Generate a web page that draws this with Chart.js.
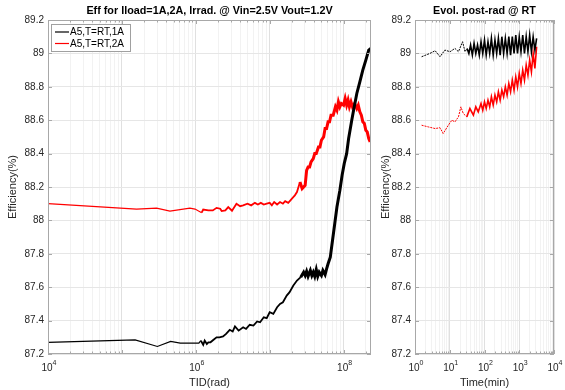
<!DOCTYPE html>
<html>
<head>
<meta charset="utf-8">
<script src="https://cdn.jsdelivr.net/npm/chart.js@4.4.1/dist/chart.umd.min.js"></script>
<style>
  html, body { margin: 0; padding: 0; background: #fff; }
  #wrap { position: relative; width: 565px; height: 390px; }
  #tid-chart { position: absolute; left: 0; top: 0; }
  #time-chart { position: absolute; left: 380px; top: 0; }
</style>
</head>
<body>
<div id="wrap">
  <canvas id="tid-chart" width="380" height="390"></canvas>
  <canvas id="time-chart" width="185" height="390"></canvas>
</div>
<script>
// ---- left panel: efficiency vs total ionizing dose ----
const tidRad1A = [
  1e4, 1.51e5, 3.02e5, 4.57e5, 6.17e5, 1.10e6, 1.17e6, 1.26e6, 1.32e6, 1.41e6,
  1.48e6, 1.58e6, 1.74e6, 1.91e6, 2.09e6, 2.34e6, 2.57e6, 2.88e6, 3.16e6, 3.39e6,
  3.80e6, 4.37e6, 4.79e6, 5.37e6, 6.03e6, 6.76e6, 7.41e6, 8.32e6, 9.12e6, 1.0e7,
  1.12e7, 1.26e7, 1.38e7, 1.51e7, 1.70e7, 1.86e7, 2.09e7, 2.34e7, 2.63e7, 2.88e7,
  3.02e7, 3.16e7, 3.31e7, 3.55e7, 3.72e7, 3.89e7, 4.07e7, 4.27e7, 4.47e7, 4.68e7,
  5.01e7, 5.25e7, 5.62e7, 5.89e7, 6.17e7, 6.61e7, 7.08e7, 7.59e7, 8.13e7, 8.91e7,
  9.55e7, 1.02e8, 1.10e8, 1.17e8, 1.29e8, 1.38e8, 1.51e8, 1.66e8, 1.82e8, 2.00e8,
  2.19e8, 2.34e8
];
const eff1A = [
  87.27, 87.285, 87.245, 87.275, 87.265, 87.265, 87.28, 87.255, 87.28, 87.26,
  87.27, 87.27, 87.285, 87.30, 87.30, 87.305, 87.32, 87.345, 87.335, 87.365,
  87.34, 87.36, 87.35, 87.375, 87.37, 87.395, 87.39, 87.42, 87.415, 87.45,
  87.44, 87.48, 87.50, 87.51, 87.55, 87.57, 87.61, 87.64, 87.66, 87.69,
  87.67, 87.695, 87.665, 87.70, 87.67, 87.69, 87.665, 87.705, 87.665, 87.69,
  87.67, 87.70, 87.675, 87.71, 87.74, 87.78, 87.88, 87.98, 88.08, 88.18,
  88.27, 88.34, 88.40, 88.49, 88.60, 88.67, 88.76, 88.83, 88.90, 88.96,
  89.02, 89.03
];

const tidRad2A = [
  1e4, 1.58e5, 2.95e5, 4.47e5, 8.32e5, 9.77e5, 1.20e6, 1.26e6, 1.48e6, 1.70e6,
  1.91e6, 2.14e6, 2.24e6, 2.51e6, 2.75e6, 3.09e6, 3.55e6, 3.98e6, 4.37e6, 5.01e6,
  5.62e6, 6.31e6, 6.92e6, 7.59e6, 8.32e6, 9.12e6, 1.0e7, 1.07e7, 1.15e7, 1.26e7,
  1.38e7, 1.51e7, 1.62e7, 1.78e7, 1.91e7, 2.00e7, 2.19e7, 2.34e7, 2.57e7, 2.75e7,
  3.02e7, 3.16e7, 3.31e7, 3.47e7, 3.63e7, 3.89e7, 4.07e7, 4.27e7, 4.57e7, 4.79e7,
  5.01e7, 5.37e7, 5.62e7, 5.89e7, 6.17e7, 6.46e7, 6.76e7, 7.24e7, 7.76e7, 8.13e7,
  8.51e7, 8.91e7, 9.33e7, 1.0e8, 1.05e8, 1.10e8, 1.15e8, 1.20e8, 1.26e8, 1.32e8,
  1.41e8, 1.51e8, 1.58e8, 1.66e8, 1.74e8, 1.82e8, 1.91e8, 2.00e8, 2.09e8, 2.19e8,
  2.29e8
];
const eff2A = [
  88.10, 88.067, 88.073, 88.056, 88.074, 88.068, 88.046, 88.065, 88.06, 88.06,
  88.075, 88.07, 88.056, 88.06, 88.08, 88.058, 88.10, 88.085, 88.09, 88.10,
  88.09, 88.105, 88.095, 88.105, 88.095, 88.10, 88.105, 88.09, 88.11, 88.095,
  88.11, 88.10, 88.115, 88.105, 88.12, 88.13, 88.15, 88.17, 88.23, 88.19,
  88.21, 88.30, 88.32, 88.32, 88.35, 88.37, 88.40, 88.40, 88.44, 88.44,
  88.48, 88.50, 88.55, 88.55, 88.59, 88.59, 88.63, 88.63, 88.68, 88.66,
  88.71, 88.68, 88.70, 88.69, 88.73, 88.69, 88.72, 88.68, 88.71, 88.68,
  88.70, 88.67, 88.69, 88.65, 88.63, 88.59, 88.58, 88.54, 88.53, 88.49,
  88.47
];

// ---- right panel: post-irradiation evolution ----
const timeMin1A = [
  1.55, 2.69, 3.80, 5.25, 7.24, 10.2, 14.1, 17.8, 23.4, 27.5,
  31.6, 35.5, 39.8, 44.7, 50.1, 56.2, 63.1, 70.8, 79.4, 89.1,
  100, 112, 126, 141, 158, 178, 200, 224, 251, 282,
  316, 355, 398, 447, 501, 562, 631, 708, 794, 891,
  1000, 1122, 1259, 1413, 1585, 1778, 1995, 2239, 2512, 2818,
  3162
];
const post1A = [
  88.98, 89.00, 89.016, 88.98, 89.02, 89.01, 89.03, 89.01, 89.07, 89.01,
  89.03, 89.00, 89.05, 88.99, 89.06, 89.00, 89.05, 88.99, 89.07, 89.00,
  89.08, 88.99, 89.07, 89.00, 89.09, 88.99, 89.08, 89.00, 89.09, 88.99,
  89.10, 89.00, 89.09, 89.00, 89.10, 88.99, 89.10, 89.00, 89.11, 89.00,
  89.10, 89.01, 89.11, 89.00, 89.10, 89.01, 89.11, 89.01, 89.10, 89.02,
  89.09
];

const timeMin2A = [
  1.55, 2.40, 3.80, 5.25, 6.46, 9.12, 11.5, 14.1, 17.8, 20.9,
  24.5, 30.9, 38.0, 47.9, 56.2, 66.1, 79.4, 89.1, 100, 112,
  126, 141, 158, 178, 200, 224, 251, 282, 316, 355,
  398, 447, 501, 562, 631, 708, 794, 891, 1000, 1122,
  1259, 1413, 1585, 1778, 1995, 2239, 2512, 2818, 3162
];
const post2A = [
  88.57, 88.56, 88.55, 88.555, 88.52, 88.57, 88.60, 88.59, 88.62, 88.68,
  88.64, 88.62, 88.67, 88.63, 88.68, 88.65, 88.70, 88.66, 88.71, 88.67,
  88.72, 88.68, 88.74, 88.69, 88.75, 88.71, 88.77, 88.72, 88.78, 88.74,
  88.80, 88.75, 88.82, 88.77, 88.84, 88.78, 88.86, 88.80, 88.88, 88.82,
  88.90, 88.84, 88.93, 88.87, 88.96, 88.89, 89.00, 88.91, 89.04
];

const effTicks = [87.2, 87.4, 87.6, 87.8, 88, 88.2, 88.4, 88.6, 88.8, 89, 89.2];
const tidLabelTicks = [1e4, 1e6, 1e8];
const timeLabelTicks = [1, 10, 100, 1000, 10000];
const seriesNames = ["A5,T=RT,1A", "A5,T=RT,2A"];

const FONT = '"Liberation Sans", Arial, Helvetica, sans-serif';
const TEXT_COLOR = "#262626";
const FRAME_COLOR = "#a8a8a8";

const toPoints = (xs, ys) => xs.map((x, i) => ({ x, y: ys[i] }));

const logGridTicks = (min, max) => {
  const out = [];
  for (let p = Math.floor(Math.log10(min)); Math.pow(10, p) <= max; p++) {
    for (let m = 1; m < 10; m++) {
      const v = m * Math.pow(10, p);
      if (v >= min && v <= max * 1.0001) out.push({ value: v, major: m === 1 });
    }
  }
  return out;
};

const panelDecor = (cfg) => ({
  id: "panelDecor",
  afterDraw(chart) {
    const { ctx, chartArea: a, scales } = chart;
    const xs = scales.x;
    const ys = scales.y;
    ctx.save();

    // inside tick marks + box
    ctx.strokeStyle = FRAME_COLOR;
    ctx.lineWidth = 1;
    ctx.beginPath();
    xs.ticks.forEach((t) => {
      const px = Math.round(xs.getPixelForValue(t.value)) + 0.5;
      const len = t.major ? 4 : 2.5;
      ctx.moveTo(px, a.bottom);
      ctx.lineTo(px, a.bottom - len);
      ctx.moveTo(px, a.top);
      ctx.lineTo(px, a.top + len);
    });
    ys.ticks.forEach((t) => {
      const py = Math.round(ys.getPixelForValue(t.value)) + 0.5;
      ctx.moveTo(a.left, py);
      ctx.lineTo(a.left + 4, py);
      ctx.moveTo(a.right, py);
      ctx.lineTo(a.right - 4, py);
    });
    ctx.stroke();
    ctx.strokeRect(a.left + 0.5, a.top + 0.5, a.right - a.left - 1, a.bottom - a.top - 1);

    // x tick labels as 10^n
    ctx.fillStyle = TEXT_COLOR;
    ctx.textBaseline = "alphabetic";
    ctx.textAlign = "left";
    cfg.labelTicks.forEach((v) => {
      const exp = String(Math.round(Math.log10(v)));
      ctx.font = `10px ${FONT}`;
      const wBase = ctx.measureText("10").width;
      ctx.font = `7px ${FONT}`;
      const wExp = ctx.measureText(exp).width;
      const x0 = xs.getPixelForValue(v) - (wBase + wExp) / 2 + 1;
      ctx.font = `10px ${FONT}`;
      ctx.fillText("10", x0, a.bottom + 17);
      ctx.font = `7px ${FONT}`;
      ctx.fillText(exp, x0 + wBase, a.bottom + 11);
    });

    // axis titles
    const cx = (a.left + a.right) / 2;
    ctx.font = `11px ${FONT}`;
    ctx.textAlign = "center";
    ctx.textBaseline = "middle";
    ctx.fillText(cfg.xTitle, cx, a.bottom + 29);
    ctx.save();
    ctx.translate(cfg.yTitleX, (a.top + a.bottom) / 2);
    ctx.rotate(-Math.PI / 2);
    ctx.fillText("Efficiency(%)", 0, 0);
    ctx.restore();

    // panel title
    ctx.fillStyle = "#000";
    ctx.font = `bold 10.8px ${FONT}`;
    ctx.fillText(cfg.title, cx, 11);

    // legend
    if (cfg.legend) {
      const lx = a.left + 3;
      const ly = a.top + 4;
      ctx.fillStyle = "#fff";
      ctx.fillRect(lx, ly, 79, 27);
      ctx.strokeStyle = "#a0a0a0";
      ctx.strokeRect(lx + 0.5, ly + 0.5, 79, 27);
      chart.data.datasets.forEach((ds, i) => {
        const rowY = ly + 8 + i * 11.5;
        ctx.strokeStyle = ds.borderColor;
        ctx.lineWidth = 1.2;
        ctx.beginPath();
        ctx.moveTo(lx + 4, rowY);
        ctx.lineTo(lx + 18, rowY);
        ctx.stroke();
        ctx.fillStyle = "#000";
        ctx.font = `10px ${FONT}`;
        ctx.textAlign = "left";
        ctx.fillText(seriesNames[i], lx + 19, rowY + 0.5);
      });
    }
    ctx.restore();
  },
});

const makePanel = (canvasId, cfg) => {
  const gridTicks = logGridTicks(cfg.xMin, cfg.xMax);
  return new Chart(document.getElementById(canvasId), {
    type: "line",
    data: { datasets: cfg.datasets },
    options: {
      responsive: false,
      animation: false,
      layout: { padding: { top: 20, right: cfg.padRight, left: 0, bottom: 0 } },
      plugins: { legend: { display: false }, tooltip: { enabled: false } },
      elements: { point: { radius: 0 }, line: { tension: 0 } },
      scales: {
        x: {
          type: "logarithmic",
          min: cfg.xMin,
          max: cfg.xMax,
          afterBuildTicks: (scale) => {
            scale.ticks = gridTicks.map((t) => ({ ...t }));
          },
          afterFit: (scale) => {
            scale.height = 36;
          },
          ticks: { display: false },
          grid: {
            drawTicks: false,
            lineWidth: 1,
            color: (ctx) => (ctx.tick && ctx.tick.major ? "#e0e0e0" : "#f2f2f2"),
          },
          border: { display: false },
        },
        y: {
          min: 87.2,
          max: 89.2,
          afterBuildTicks: (scale) => {
            scale.ticks = effTicks.map((v) => ({ value: v }));
          },
          afterFit: (scale) => {
            scale.width = cfg.yWidth;
          },
          ticks: {
            color: TEXT_COLOR,
            padding: 4,
            font: { family: FONT, size: 10 },
            callback: (v) => String(+Number(v).toFixed(1)),
          },
          grid: { drawTicks: false, color: "#e6e6e6" },
          border: { display: false },
        },
      },
    },
    plugins: [panelDecor(cfg)],
  });
};

// thicker strokes where the measured data is noisy
const tidWidth = (ctx) => {
  const x = ctx.p0.parsed.x;
  if (x > 2.5e7) return 3;
  if (x > 1.1e6) return 1.8;
  return 1.2;
};

makePanel("tid-chart", {
  title: "Eff for Iload=1A,2A, Irrad. @ Vin=2.5V Vout=1.2V",
  xTitle: "TID(rad)",
  xMin: 1e4,
  xMax: 2.35e8,
  labelTicks: tidLabelTicks,
  yWidth: 48,
  padRight: 9,
  yTitleX: 13,
  legend: true,
  datasets: [
    {
      label: seriesNames[0],
      data: toPoints(tidRad1A, eff1A),
      borderColor: "#000000",
      borderWidth: 1.2,
      segment: { borderWidth: tidWidth },
    },
    {
      label: seriesNames[1],
      data: toPoints(tidRad2A, eff2A),
      borderColor: "#ff0000",
      borderWidth: 1.2,
      segment: { borderWidth: tidWidth },
    },
  ],
});

// dotted sparse start, dense band later
const timeDash = (ctx) => (ctx.p0.parsed.x > 30 ? [] : [2, 1]);
const timeWidth = (ctx) => (ctx.p0.parsed.x > 30 ? 1.6 : 1);

makePanel("time-chart", {
  title: "Evol. post-rad @ RT",
  xTitle: "Time(min)",
  xMin: 1,
  xMax: 1e4,
  labelTicks: timeLabelTicks,
  yWidth: 35,
  padRight: 11,
  yTitleX: 5.5,
  legend: false,
  datasets: [
    {
      label: seriesNames[0],
      data: toPoints(timeMin1A, post1A),
      borderColor: "#000000",
      borderWidth: 1,
      segment: { borderDash: timeDash, borderWidth: timeWidth },
    },
    {
      label: seriesNames[1],
      data: toPoints(timeMin2A, post2A),
      borderColor: "#ff0000",
      borderWidth: 1,
      segment: { borderDash: timeDash, borderWidth: timeWidth },
    },
  ],
});
</script>
</body>
</html>
